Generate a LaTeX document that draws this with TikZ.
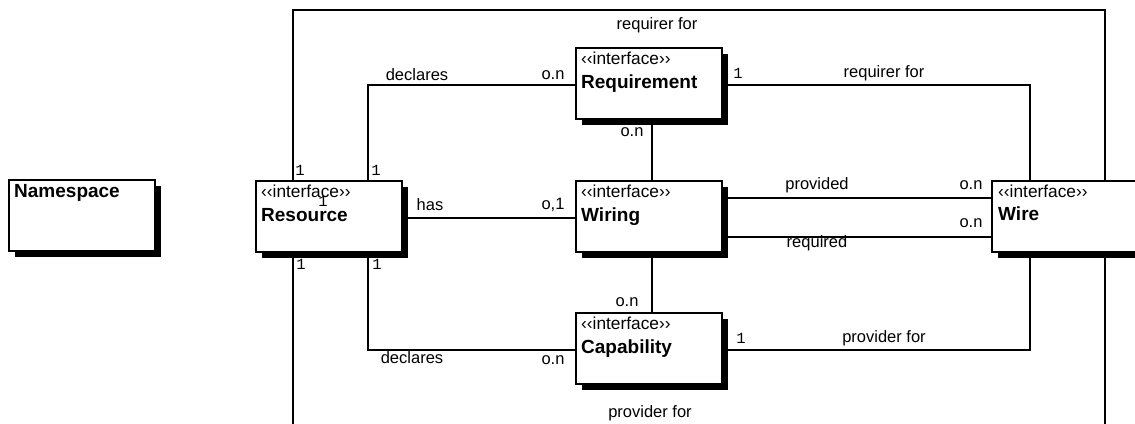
\documentclass[tikz,border=0pt]{standalone}
\usepackage{fontspec}
\setmainfont{Liberation Sans}
\newfontfamily\monof{Liberation Mono}
\usetikzlibrary{shadows}
\begin{document}
\begin{tikzpicture}[x=1pt,y=-1pt,
  umlbox/.style={draw=black, line width=2pt, fill=white, minimum width=146pt, minimum height=71pt, anchor=north west, inner sep=0pt,
    drop shadow={shadow xshift=6pt, shadow yshift=-6pt, fill=black, opacity=1}},
  conn/.style={line width=1.8pt},
  lab/.style={inner sep=0pt, font=\fontsize{16.5}{19}\selectfont},
  mult/.style={inner sep=0pt, font=\monof\fontsize{15.5}{17}\selectfont},
  stereo/.style={inner sep=0pt, anchor=base west, font=\fontsize{17.3}{20}\selectfont},
  cname/.style={inner sep=0pt, anchor=base west, font=\bfseries\fontsize{19}{22}\selectfont}]
\useasboundingbox (0,0) rectangle (1135,423);
\begin{scope}
\clip (0,0) rectangle (1135,423);
% boxes
\node[umlbox] (ns) at (8,179) {};
\node[umlbox] (res) at (255,180) {};
\node[umlbox] (req) at (575,47) {};
\node[umlbox] (wiring) at (575,180) {};
\node[umlbox] (cap) at (575,312) {};
\node[umlbox] (wire) at (991,180) {};
% box texts
\node[cname] (ns-n) at ([xshift=6pt,yshift=-18pt]ns.north west) {Namespace};
\node[stereo] (res-s) at ([xshift=6pt,yshift=-17pt]res.north west) {‹‹interface››};
\node[cname] (res-n) at ([xshift=6pt,yshift=-41pt]res.north west) {Resource};
\node[stereo] (req-s) at ([xshift=6pt,yshift=-17pt]req.north west) {‹‹interface››};
\node[cname] (req-n) at ([xshift=6pt,yshift=-41pt]req.north west) {Requirement};
\node[stereo] (wiring-s) at ([xshift=6pt,yshift=-17pt]wiring.north west) {‹‹interface››};
\node[cname] (wiring-n) at ([xshift=6pt,yshift=-41pt]wiring.north west) {Wiring};
\node[stereo] (cap-s) at ([xshift=6pt,yshift=-17pt]cap.north west) {‹‹interface››};
\node[cname] (cap-n) at ([xshift=6pt,yshift=-41pt]cap.north west) {Capability};
\node[stereo] (wire-s) at ([xshift=7pt,yshift=-17pt]wire.north west) {‹‹interface››};
\node[cname] (wire-n) at ([xshift=7pt,yshift=-40pt]wire.north west) {Wire};
% connectors
\coordinate (tl) at (293,10); \coordinate (tr) at (1105,10);
\draw[conn] (res.north -| tl) -- (tl) -- (tr) -- (wire.north -| tr);
\coordinate (bl) at (293,440); \coordinate (br) at (1105,440);
\draw[conn] (res.south -| bl) -- (bl) -- (br) -- (wire.south -| br);
\coordinate (d1) at (368,85);
\draw[conn] (res.north -| d1) -- (d1) -- (d1 -| req.west);
\coordinate (d2) at (368,350);
\draw[conn] (res.south -| d2) -- (d2) -- (d2 -| cap.west);
\coordinate (h) at (0,218);
\draw[conn] (h -| res.east) -- (h -| wiring.west);
\coordinate (v) at (652,0);
\draw[conn] (req.south -| v) -- (wiring.north -| v);
\draw[conn] (wiring.south -| v) -- (cap.north -| v);
\coordinate (pv) at (0,198); \coordinate (rq) at (0,237);
\draw[conn] (pv -| wiring.east) -- (pv -| wire.west);
\draw[conn] (rq -| wiring.east) -- (rq -| wire.west);
\coordinate (rf) at (1030,85);
\draw[conn] (rf -| req.east) -- (rf) -- (wire.north -| rf);
\coordinate (pf) at (1030,350);
\draw[conn] (pf -| cap.east) -- (pf) -- (wire.south -| pf);
% labels
\node[lab] (l1) at (657,25) {requirer for};
\node[lab] (l2) at (417,75) {declares};
\node[lab] (l3) at (553,75) {o.n};
\node[mult] (l4) at (738,73) {1};
\node[lab] (l5) at (884,73) {requirer for};
\node[lab] (l6) at (632,132) {o.n};
\node[mult] (l7) at (300,170) {1};
\node[mult] (l8) at (376,170) {1};
\node[lab] (l9) at (430,205) {has};
\node[lab] (l10) at (553,205) {o,1};
\node[mult] (l11) at (323,201) {1};
\node[lab] (l12) at (817,185) {provided};
\node[lab] (l13) at (971,185) {o.n};
\node[lab] (l14) at (971,223) {o.n};
\node[lab] (l15) at (817,243) {required};
\node[mult] (l16) at (301,264) {1};
\node[mult] (l17) at (377,264) {1};
\node[lab] (l18) at (627,302) {o.n};
\node[lab] (l19) at (412,358) {declares};
\node[lab] (l20) at (553,360) {o.n};
\node[mult] (l21) at (741,338) {1};
\node[lab] (l22) at (884,338) {provider for};
\node[lab] (l23) at (650,413) {provider for};
\end{scope}
\end{tikzpicture}
\end{document}
